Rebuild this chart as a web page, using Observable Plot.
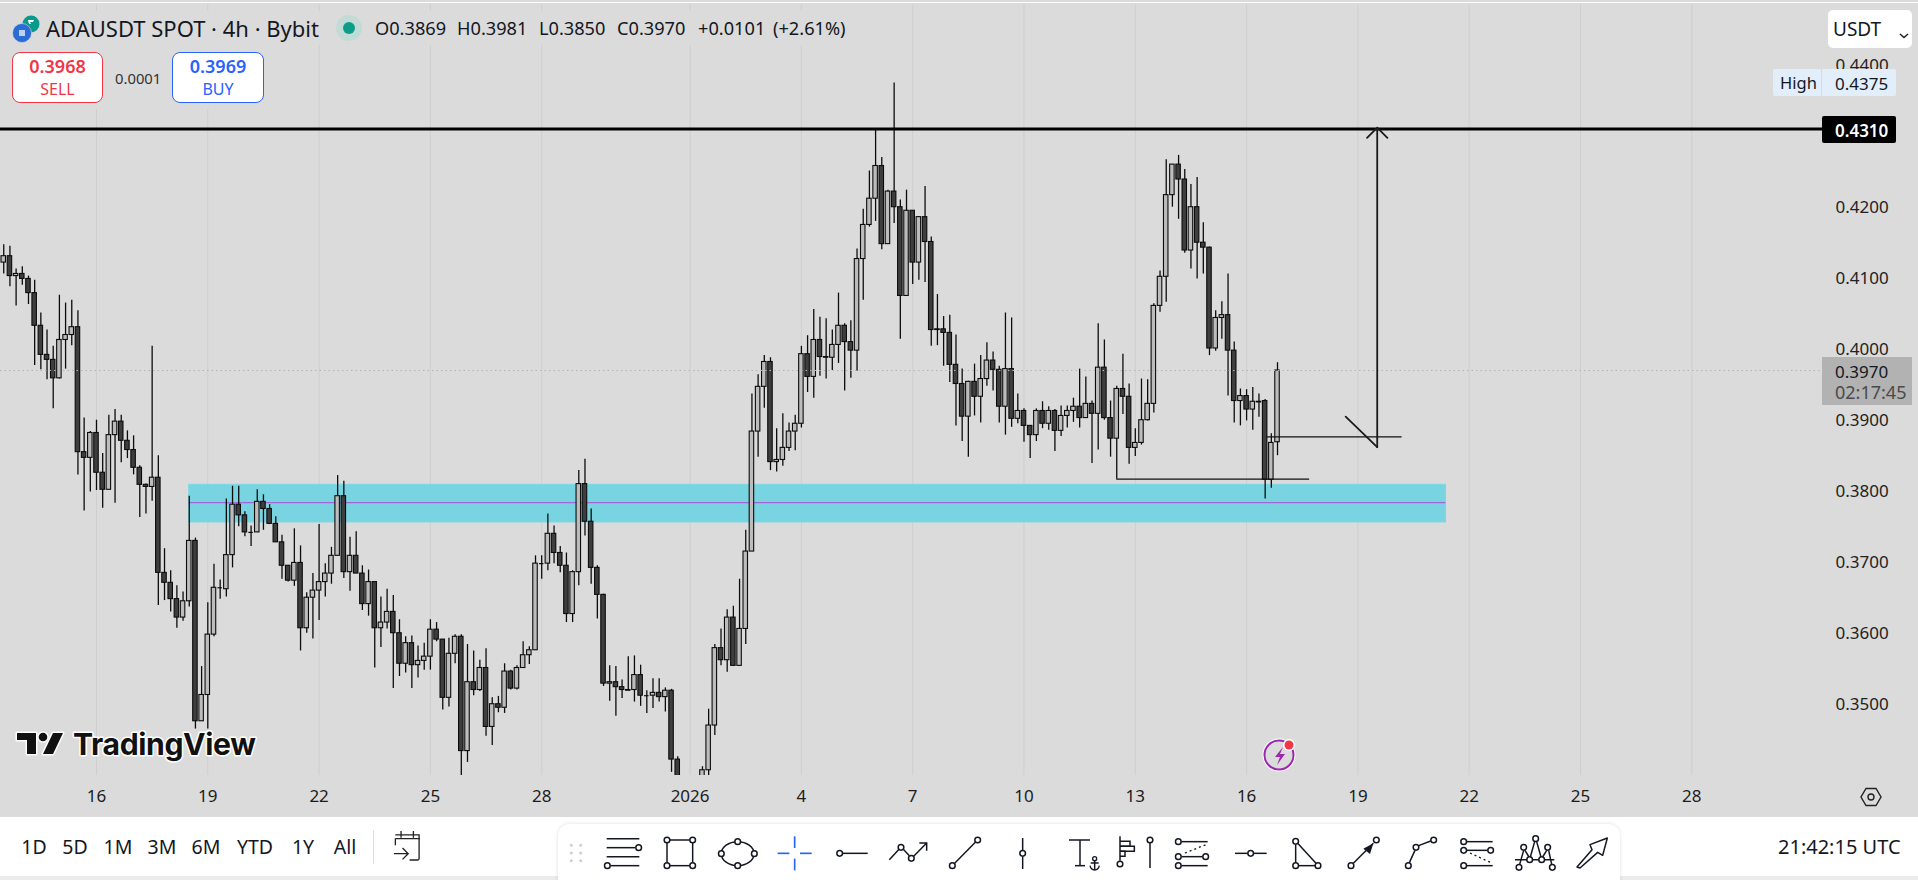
<!DOCTYPE html>
<html><head><meta charset="utf-8">
<script src="https://cdn.jsdelivr.net/npm/d3@7"></script>
<script src="https://cdn.jsdelivr.net/npm/@observablehq/plot@0.6"></script>
<style>
html,body{margin:0;padding:0;background:#fff;overflow:hidden}
#wrap{position:relative;width:1918px;height:880px;font-family:"Noto Sans",sans-serif;color:#131722;overflow:hidden}
#chart{position:absolute;left:0;top:0}
#chart svg{display:block}
.a{position:absolute;white-space:nowrap;box-sizing:border-box}
</style></head><body>
<div id="wrap"><div id="chart"></div><div id="over"></div></div>
<script>
const firstCandle = Date.UTC(2025,11,13,12);
const opens = [
.4122,.4131,.4103,.4106,.4099,.4079,.4033,.3992,.3985,.3959,
.4013,.4020,.4031,.3855,.3847,.3882,.3826,.3802,.3879,.3898,
.3871,.3858,.3833,.3809,.3806,.3819,.3685,.3671,.3648,.3622,
.3645,.3730,.3476,.3513,.3598,.3664,.3662,.3710,.3781,.3766,
.3742,.3742,.3785,.3775,.3754,.3728,.3695,.3674,.3699,.3607,
.3650,.3660,.3672,.3684,.3709,.3793,.3686,.3709,.3684,.3641,
.3672,.3607,.3615,.3630,.3600,.3557,.3586,.3555,.3561,.3567,
.3605,.3591,.3509,.3571,.3595,.3434,.3531,.3520,.3551,.3468,
.3500,.3495,.3546,.3522,.3551,.3569,.3576,.3698,.3698,.3740,
.3713,.3695,.3627,.3686,.3810,.3757,.3692,.3654,.3529,.3531,
.3524,.3520,.3520,.3541,.3512,.3512,.3516,.3510,.3519,.3422,
.3385,.3370,.3375,.3385,.3407,.3470,.3579,.3562,.3622,.3554,
.3606,.3715,.3884,.3947,.3982,.3841,.3844,.3861,.3884,.3895,
.3993,.3961,.4013,.3989,.3988,.4006,.4033,.4010,.3998,.4127,
.4175,.4212,.4258,.4148,.4222,.4200,.4075,.4195,.4122,.4186,
.4151,.4028,.4028,.4023,.3978,.3951,.3905,.3954,.3933,.3958,
.3984,.3971,.3919,.3972,.3902,.3913,.3892,.3879,.3913,.3895,
.3913,.3885,.3906,.3913,.3919,.3903,.3923,.3909,.3974,.3903,
.3874,.3944,.3933,.3861,.3868,.3900,.3923,.4061,.4102,.4217,
.4260,.4239,.4139,.4200,.4150,.4143,.4001,.4044,.4048,.3998,
.3927,.3934,.3915,.3926,.3927,.3816,.3869];
const closes = [
.4131,.4103,.4106,.4099,.4079,.4033,.3992,.3985,.3959,.4013,
.4020,.4031,.3855,.3847,.3882,.3826,.3802,.3879,.3898,.3871,
.3858,.3833,.3809,.3806,.3819,.3685,.3671,.3648,.3622,.3645,
.3730,.3476,.3513,.3598,.3664,.3664,.3710,.3781,.3766,.3742,
.3742,.3785,.3775,.3754,.3728,.3695,.3674,.3699,.3607,.3650,
.3660,.3672,.3684,.3709,.3793,.3686,.3709,.3684,.3641,.3672,
.3607,.3615,.3630,.3600,.3557,.3586,.3555,.3561,.3567,.3605,
.3591,.3509,.3571,.3595,.3434,.3531,.3520,.3551,.3468,.3500,
.3495,.3546,.3522,.3551,.3569,.3576,.3698,.3698,.3740,.3713,
.3695,.3627,.3686,.3810,.3757,.3692,.3654,.3529,.3531,.3524,
.3520,.3519,.3541,.3512,.3512,.3516,.3510,.3519,.3422,.3385,
.3370,.3375,.3380,.3407,.3470,.3579,.3562,.3622,.3554,.3606,
.3715,.3884,.3947,.3982,.3841,.3844,.3861,.3884,.3895,.3993,
.3961,.4013,.3989,.3988,.4006,.4033,.4010,.3998,.4127,.4175,
.4212,.4258,.4148,.4222,.4200,.4075,.4195,.4122,.4186,.4151,
.4027,.4027,.4023,.3978,.3951,.3905,.3954,.3933,.3958,.3984,
.3971,.3919,.3972,.3902,.3913,.3892,.3879,.3913,.3895,.3913,
.3885,.3906,.3913,.3919,.3903,.3923,.3909,.3974,.3903,.3874,
.3944,.3933,.3861,.3868,.3900,.3923,.4061,.4102,.4217,.4260,
.4239,.4139,.4200,.4150,.4143,.4001,.4044,.4048,.3998,.3927,
.3934,.3915,.3926,.3925,.3816,.3868,.3970];
const highs = [
.4147,.4145,.4113,.4116,.4103,.4097,.4051,.4027,.4004,.4076,
.4065,.4069,.4054,.3903,.3884,.3900,.3853,.3907,.3915,.3907,
.3885,.3878,.3836,.3810,.4004,.3850,.3719,.3688,.3667,.3658,
.3793,.3734,.3553,.3643,.3697,.3675,.3789,.3807,.3807,.3771,
.3751,.3802,.3795,.3781,.3764,.3738,.3695,.3747,.3723,.3657,
.3684,.3753,.3698,.3721,.3822,.3814,.3735,.3743,.3695,.3689,
.3672,.3651,.3662,.3653,.3619,.3595,.3596,.3582,.3586,.3619,
.3615,.3591,.3593,.3598,.3598,.3584,.3575,.3562,.3578,.3509,
.3511,.3557,.3548,.3554,.3588,.3581,.3709,.3709,.3768,.3751,
.3722,.3713,.3688,.3829,.3845,.3775,.3695,.3655,.3554,.3553,
.3534,.3567,.3568,.3555,.3519,.3536,.3536,.3523,.3521,.3426,
.3395,.3385,.3392,.3412,.3493,.3584,.3606,.3633,.3638,.3676,
.3745,.3937,.3964,.3991,.3988,.3888,.3909,.3896,.3907,.4004,
.4019,.4056,.4045,.4043,.4027,.4079,.4036,.4040,.4141,.4197,
.4251,.4310,.4270,.4224,.4375,.4210,.4224,.4195,.4187,.4229,
.4158,.4077,.4046,.4048,.4020,.3972,.3955,.3979,.3991,.4009,
.3996,.3976,.4051,.4044,.3937,.3916,.3892,.3916,.3926,.3919,
.3915,.3920,.3920,.3931,.3972,.3961,.3927,.4036,.4013,.3927,
.3948,.3993,.3951,.3888,.3958,.3957,.4064,.4110,.4267,.4260,
.4273,.4253,.4232,.4242,.4178,.4144,.4054,.4067,.4106,.4010,
.3944,.3943,.3946,.3937,.3929,.3881,.3981];
const lows = [
.4106,.4088,.4061,.4090,.4063,.3977,.3971,.3957,.3916,.3958,
.3972,.4005,.3823,.3772,.3799,.3801,.3776,.3802,.3783,.3840,
.3846,.3823,.3763,.3768,.3786,.3639,.3646,.3630,.3607,.3617,
.3637,.3465,.3476,.3465,.3595,.3648,.3651,.3692,.3750,.3736,
.3722,.3742,.3745,.3753,.3728,.3676,.3672,.3666,.3575,.3600,
.3592,.3618,.3651,.3669,.3709,.3677,.3659,.3684,.3632,.3624,
.3551,.3580,.3606,.3522,.3539,.3544,.3522,.3537,.3548,.3548,
.3588,.3492,.3496,.3557,.3395,.3418,.3512,.3518,.3455,.3442,
.3488,.3487,.3520,.3520,.3551,.3556,.3576,.3676,.3688,.3698,
.3685,.3615,.3615,.3667,.3737,.3669,.3620,.3525,.3504,.3483,
.3508,.3520,.3503,.3497,.3487,.3494,.3503,.3489,.3404,.3370,
.3360,.3360,.3365,.3375,.3390,.3456,.3554,.3545,.3554,.3554,
.3584,.3715,.3848,.3917,.3829,.3827,.3835,.3856,.3857,.3889,
.3939,.3931,.3962,.3958,.3970,.3980,.3941,.3959,.3969,.4069,
.4172,.4180,.4140,.4148,.4177,.4014,.4075,.4091,.4097,.4094,
.4004,.4005,.3976,.3953,.3892,.3870,.3848,.3906,.3896,.3948,
.3941,.3896,.3879,.3890,.3895,.3869,.3846,.3870,.3888,.3886,
.3856,.3877,.3889,.3897,.3889,.3903,.3839,.3858,.3900,.3848,
.3817,.3908,.3838,.3849,.3865,.3899,.3910,.4052,.4066,.4200,
.4183,.4135,.4113,.4099,.4106,.3991,.3997,.4014,.3934,.3896,
.3892,.3899,.3886,.3904,.3789,.3804,.3850];

const priceTicks = [0.35,0.36,0.37,0.38,0.39,0.40,0.41,0.42,0.44];
const dayTicks = ["2025-12-16","2025-12-19","2025-12-22","2025-12-25","2025-12-28","2026-01-01","2026-01-04","2026-01-07","2026-01-10","2026-01-13","2026-01-16","2026-01-19","2026-01-22","2026-01-25","2026-01-28"].map(s => new Date(s+"T00:00:00Z"));
const dayLabels = ["16","19","22","25","28","2026","4","7","10","13","16","19","22","25","28"];

const resistance = 0.4310, lastPrice = 0.3970;
const zone = {start:"2025-12-18T12:00Z", end:"2026-01-21T09:00Z", top:0.3809, bottom:0.3756, mid:0.3784};
const support1 = {x1:"2026-01-12T12:00Z", x2:"2026-01-17T16:48Z", y:0.3817};
const support2 = {x1:"2026-01-16T13:12Z", x2:"2026-01-20T04:36Z", y:0.38765};
const projection = {x:"2026-01-19T12:30Z", from:0.3862, to:0.4312, tailX:"2026-01-18T16:05Z", tailY:0.3905};
const xDomain = ["2025-12-13T09:54Z","2026-01-31T12:33Z"].map(s => new Date(s));
const yDomain = [0.33996,0.44855];

const H = 3600e3;
const candles = opens.map((o,i) => ({t:new Date(firstCandle+i*4*H), o, c:closes[i], h:highs[i], l:lows[i]}));
const up = d => d.c >= d.o;
const D = s => new Date(s);

const chart = Plot.plot({
  width:1918, height:817, marginTop:4, marginBottom:42, marginLeft:0, marginRight:96,
  style:{background:"#dbdbdb", fontFamily:'"Noto Sans",sans-serif', color:"#1c1c1c"},
  x:{type:"utc", domain:xDomain}, y:{domain:yDomain},
  marks:[
    Plot.ruleX(dayTicks,{stroke:"#cfcfcf", strokeWidth:1}),
    Plot.rect([zone],{x1:d=>D(d.start), x2:d=>D(d.end), y1:"bottom", y2:"top", fill:"#78d4e1", stroke:"#7ad8e6", strokeWidth:1, clip:true}),
    Plot.ruleY([zone],{y:"mid", x1:d=>D(d.start), x2:d=>D(d.end), stroke:"#a365d8", strokeWidth:1.2}),
    Plot.ruleX(candles,{x:"t", y1:"l", y2:"h", stroke:"#0c0c0c", strokeWidth:1.3, clip:true}),
    Plot.rect(candles.filter(d=>d.o!==d.c),{x1:d=>new Date(+d.t-1.45*H), x2:d=>new Date(+d.t+1.45*H), y1:"o", y2:"c",
      fill:d=>up(d)?"#bcbcbc":"#3e3e3e", stroke:"#0c0c0c", strokeWidth:1.1, clip:true}),
    Plot.ruleY(candles.filter(d=>d.o===d.c),{y:"c", x1:d=>new Date(+d.t-1.45*H), x2:d=>new Date(+d.t+1.45*H), stroke:"#0c0c0c", strokeWidth:1.2}),
    Plot.ruleY([lastPrice],{stroke:"#b4b4b4", strokeWidth:1, strokeDasharray:"1.5,3"}),
    Plot.ruleY([resistance],{stroke:"#000", strokeWidth:3}),
    Plot.ruleY([support1],{y:"y", x1:d=>D(d.x1), x2:d=>D(d.x2), stroke:"#111", strokeWidth:1.3}),
    Plot.ruleY([support2],{y:"y", x1:d=>D(d.x1), x2:d=>D(d.x2), stroke:"#111", strokeWidth:1.3}),
    Plot.arrow([projection],{x1:d=>D(d.x), x2:d=>D(d.x), y1:"from", y2:"to", bend:0, headAngle:90, headLength:12, stroke:"#1a1a1a", strokeWidth:1.8}),
    Plot.line([{x:D(projection.tailX),y:projection.tailY},{x:D(projection.x),y:projection.from}],{x:"x", y:"y", stroke:"#1a1a1a", strokeWidth:1.8}),
    Plot.axisY(priceTicks,{anchor:"right", tickSize:0, tickPadding:13, tickFormat:d3.format(".4f"), fontSize:17, dy:0.4, label:null, fill:"#222"}),
    Plot.axisX(dayTicks,{anchor:"bottom", tickSize:0, tickPadding:14, tickFormat:(d,i)=>dayLabels[i], fontSize:17, label:null, fill:"#1c1c1c"})
  ]
});
document.getElementById("chart").append(chart);

// chrome drawn around the chart: real text, boxes and small line icons
const over = document.getElementById("over");
function box(css, html){ const e=document.createElement("div"); e.className="a"; e.style.cssText=css; if(html!==undefined) e.innerHTML=html; over.append(e); return e; }
function label(x,y,txt,size,color,extra){ return box(`left:${x}px;top:${y}px;transform:translateY(-50%);font-size:${size}px;line-height:1;color:${color||"#131722"};${extra||""}`,txt); }
function labelC(x,y,txt,size,color,extra){ return box(`left:${x}px;top:${y}px;transform:translate(-50%,-50%);font-size:${size}px;line-height:1;color:${color||"#131722"};${extra||""}`,txt); }

box("left:0;top:2px;width:1918px;height:1px;background:#fff");
box("left:0;top:11px;width:860px;height:34px;background:#dbdbdb");
box("left:0;top:45px;width:275px;height:64px;background:#dbdbdb");

// symbol icons
box("left:10px;top:12px;width:36px;height:34px",`<svg width="36" height="34"><circle cx="21" cy="12" r="8.5" fill="#0a9a8c"/><path d="M18 8h6l-1 2h-3l1 2h-2z" fill="#fff"/><circle cx="12" cy="21" r="9.5" fill="#2a6bd6" stroke="#dbdbdb" stroke-width="0.6"/><rect x="9" y="18" width="6" height="6" fill="#bcd2f5"/></svg>`);
label(46,28,"ADAUSDT SPOT · 4h · Bybit",22,"#131722");
box("left:336px;top:15px;width:26px;height:26px;border-radius:50%;background:#c3dbd6");
box("left:343px;top:22px;width:12px;height:12px;border-radius:50%;background:#0c9c8c");
[[375,"O0.3869"],[457,"H0.3981"],[539,"L0.3850"],[617,"C0.3970"],[698,"+0.0101"],[773,"(+2.61%)"]].forEach(([x,t])=>label(x,28,t,18.2,"#131722"));

// sell / buy
box("left:12px;top:52px;width:91px;height:51px;background:#fff;border:1px solid #f23645;border-radius:8px");
labelC(57.5,65.5,"0.3968",18,"#f23645","font-weight:600");
labelC(57.5,88.5,"SELL",16,"#f23645");
label(115,78,"0.0001",14.8,"#333");
box("left:172px;top:52px;width:92px;height:51px;background:#fff;border:1px solid #2962ff;border-radius:8px");
labelC(218,65.5,"0.3969",18,"#2962ff","font-weight:600");
labelC(218,88.5,"BUY",16,"#2962ff");

// right-hand axis labels
box("left:1828px;top:10px;width:84px;height:38px;background:#fff;border-radius:5px");
label(1833,29,"USDT",19,"#131722");
box("left:1898px;top:24px;width:12px;height:10px",`<svg width="12" height="10"><path d="M2 3l4 3.5L10 3" fill="none" stroke="#222" stroke-width="1.5"/></svg>`);
box("left:1773px;top:69px;width:123px;height:27px;background:#e3eefb;border-radius:2px");
box("left:1821px;top:69px;width:1px;height:27px;background:#cfdcec");
label(1780,82.5,"High",16.5,"#131722");
label(1835,82.5,"0.4375",17,"#131722");
box("left:1822px;top:116px;width:74px;height:27px;background:#000;border-radius:2px");
label(1835,130,"0.4310",17,"#fff","font-weight:600");
box("left:1822px;top:357px;width:90px;height:48px;background:#b2b2b2");
label(1835,371,"0.3970",17,"#131722");
label(1835,392,"02:17:45",18,"#4a4a4a");

// watermark
box("left:10px;top:722px;width:260px;height:48px",`<svg width="260" height="48" style="overflow:visible">
<g fill="#111" stroke="#fff" stroke-width="3" paint-order="stroke" stroke-linejoin="round">
<path d="M7 11H26V32H17V18H7Z"/><circle cx="33" cy="15" r="4.3"/><path d="M43 11H53L43 32H33Z"/>
<text x="63" y="33" font-family="Inter,Noto Sans,sans-serif" font-weight="700" font-size="30.2" letter-spacing="-0.4">TradingView</text></g></svg>`);

// lightning badge
box("left:1262px;top:736px;width:36px;height:40px",`<svg width="36" height="40"><circle cx="17" cy="19" r="16.5" fill="#fff"/><circle cx="17" cy="19" r="14.5" fill="#dbdbdb" stroke="#9c27b0" stroke-width="2"/><path d="M21 11l-8 10h5l-3 8 8-11h-5z" fill="#9c27b0"/><circle cx="27" cy="9" r="6" fill="#fff"/><circle cx="27" cy="9" r="4.5" fill="#f23645"/></svg>`);

// settings hexagon
box("left:1859px;top:785px;width:24px;height:24px",`<svg width="24" height="24"><path d="M7 3.5H17L22 12L17 20.5H7L2 12Z" fill="none" stroke="#222" stroke-width="1.4"/><circle cx="12" cy="12" r="3" fill="none" stroke="#222" stroke-width="1.4"/></svg>`);

// bottom bar
box("left:0;top:876px;width:1918px;height:4px;background:#ececec");
[[34,"1D"],[75,"5D"],[118,"1M"],[162,"3M"],[206,"6M"],[255,"YTD"],[303,"1Y"],[345,"All"]].forEach(([x,t])=>labelC(x,847,t,19.5,"#131722"));
box("left:373px;top:830px;width:1px;height:34px;background:#ddd");
box("left:393px;top:830px;width:30px;height:34px",`<svg width="30" height="34" fill="none" stroke="#222" stroke-width="1.4"><path d="M3 8h26M3 8v7M28 8v21a1.5 1.5 0 0 1-1.5 1.5H18M3 4h25v4M9 0v7M22 0v7" transform="translate(-.5,1) scale(.95)"/><path d="M1 26h14M10 20l6 6-6 6" transform="translate(0,-1) scale(.95)"/></svg>`);
label(1778,847,"21:42:15 UTC",20,"#131722");

// floating drawing toolbar
box("left:558px;top:824px;width:1062px;height:70px;background:#fff;border-radius:12px;box-shadow:0 0 4px rgba(0,0,0,.12)");
const dots = [[321,66],[398,66],[321,143],[398,143],[236,89],[142,143],[533,71],[484,107],[583,107],[533,143],[839,106],[1023,88],[1054,121],[1177,143],[1253,66],[1388,106]];
const segs = ["140,62 238,62","140,89 225,89","140,116 238,116","152,143 238,143","321,75 321,134","398,75 398,134","330,66 389,66","330,143 389,143",
 "848,106 923,106","988,125 1017,94","1030,94 1048,113","1061,115 1100,75","1078,75 1100,75 1100,98","1184,136 1246,73","1388,60 1388,97","1388,115 1388,153",
 "1527,66 1590,66","1560,66 1560,143","1545,143 1575,143","1604,128 1604,155","1592,135 1616,135"];
const off = 1560;
const dots2 = [[120,138],[210,66],[295,71],[295,116],[377,116],[295,143],[512,106],[647,70],[647,143],[714,143],[813,143],[889,66],[985,143],[1008,88],[1061,66],[1151,71],[1151,97],[1232,97],[1151,143],[1317,148],[1331,88],[1349,125],[1367,62],[1385,125],[1403,88],[1417,148]];
const segs2 = ["120,55 120,128","120,70 150,70 150,85 120,85","120,85 163,85 163,100 120,100","120,100 135,100 135,115 120,115","210,75 210,150","305,71 383,71","305,116 368,116","305,143 383,143",
 "465,106 503,106","521,106 560,106","647,79 647,134","656,143 705,143","653,76 708,136","820,136 880,76","988,134 1005,97","1016,83 1052,69",
 "1160,71 1238,71","1160,97 1223,97","1160,143 1238,143","1305,125 1423,125","1319,139 1331,97","1335,97 1347,117","1351,117 1364,71","1370,71 1383,117","1388,117 1400,97","1406,97 1415,139"];
const seg = (s,dx=0,col="#131722",w=4.5,ex="") => `<polyline transform="translate(${dx},0)" points="${s}" fill="none" stroke="${col}" stroke-width="${w}" ${ex}/>`;
const dot = ([x,y],dx=0) => `<circle cx="${x+dx}" cy="${y}" r="8.5" fill="#fff" stroke="#131722" stroke-width="4.5"/>`;
let g = "";
[34,62].forEach(x=>[82,105,128].forEach(y=>g+=`<circle cx="${x}" cy="${y}" r="4.5" fill="#cfcfcf"/>`));
g += `<ellipse cx="533" cy="107" rx="49" ry="36" fill="none" stroke="#131722" stroke-width="4.5"/>`;
segs.forEach(s=>g+=seg(s));
["704,55 704,90","704,122 704,157","653,106 688,106","720,106 755,106"].forEach(s=>g+=seg(s,0,"#2962ff",5));
segs2.forEach(s=>g+=seg(s,off));
g += seg("315,105 383,78",off,"#131722",4,'stroke-dasharray="6,9"');
g += seg("1170,105 1235,135",off,"#131722",4,'stroke-dasharray="6,9"');
g += `<path transform="translate(${off},0)" d="M880 76L850 92L870 108Z" fill="#131722"/>`;
g += `<path transform="translate(${off},0)" d="M1491 147L1536 95L1530 80L1582 60L1568 112L1553 103L1500 150Z" fill="#fff" stroke="#131722" stroke-width="4.5" stroke-linejoin="round"/>`;
g += `<circle cx="1604" cy="122" r="6" fill="none" stroke="#131722" stroke-width="4"/><path d="M1590 143q3 13 14 13q11 0 14-13" fill="none" stroke="#131722" stroke-width="4"/>`;
dots.forEach(d=>g+=dot(d));
dots2.forEach(d=>g+=dot(d,off));
box("left:560px;top:818px;width:1060px;height:62px",`<svg width="1060" height="62" viewBox="0 0 3180 186">${g}</svg>`);
</script>
</body></html>
